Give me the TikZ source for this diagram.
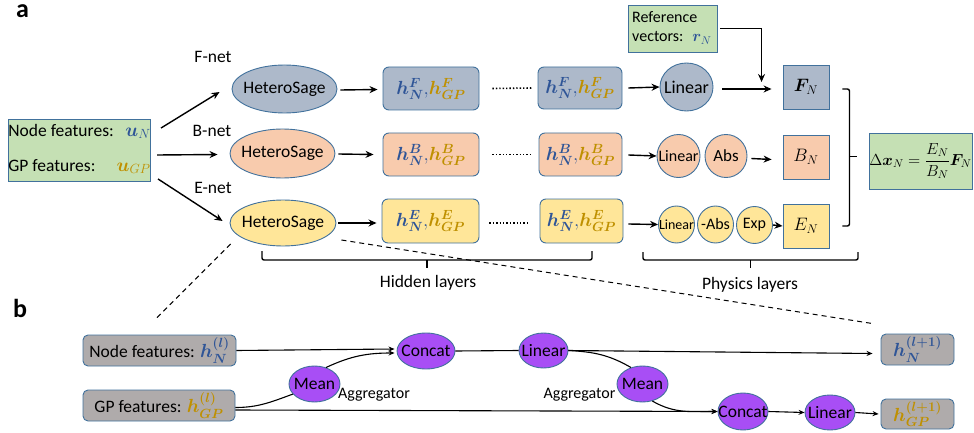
\RequirePackage{fix-cm}
\documentclass[tikz,border=0pt]{standalone}
\usepackage{amsmath,bm}
\usepackage{fontspec}
\setmainfont{Carlito}
\usetikzlibrary{shapes.geometric,arrows.meta,calc}

\definecolor{nb}{RGB}{47,85,151}
\definecolor{gd}{RGB}{191,144,0}
\definecolor{bd}{RGB}{65,113,156}
\definecolor{fF}{RGB}{173,185,202}
\definecolor{fB}{RGB}{248,203,173}
\definecolor{fE}{RGB}{255,230,153}
\definecolor{gr}{RGB}{197,224,180}
\definecolor{gy}{RGB}{175,171,171}
\definecolor{pu}{RGB}{168,78,245}

\newcommand\fsz[1]{\fontsize{#1}{#1}\selectfont}
\newcommand\hpair[1]{\fsz{19}$\textcolor{nb}{\bm{h_N^{#1}},}\textcolor{gd}{\bm{h_{GP}^{#1}}}$}

\begin{document}
\begin{tikzpicture}[x=1pt,y=-1pt,font=\fsz{17.5},
  base/.style={draw=bd,line width=0.9pt,inner sep=0pt,text=black},
  hbox/.style={base,rounded corners=6pt,minimum height=43pt},
  sq/.style={base,minimum width=46pt,minimum height=44pt},
  ell/.style={base,ellipse},
  pell/.style={base,ellipse,fill=pu,minimum height=36pt},
  gbox/.style={base,rounded corners=5pt,fill=gy,minimum height=31pt},
  arr/.style={-{Stealth[length=8pt,width=7pt]},line width=1.4pt},
  arrs/.style={-{Stealth[length=6pt,width=5pt]},line width=1.1pt},
  lnk/.style={line width=1.1pt},
  brc/.style={line width=1.4pt,rounded corners=2pt},
  dsh/.style={dashed,dash pattern=on 5pt off 4pt,line width=1pt},
  dotline/.style={line width=1.6pt,dash pattern=on 1.4pt off 2pt},
]
\useasboundingbox (0,0) rectangle (974,433);

% ---------- panel a ----------
\node[anchor=base west,inner sep=0pt,font=\fsz{26}\bfseries] (la) at (16,18) {a};

\node[base,fill=gr,minimum width=141pt,minimum height=62pt] (inp) at (79.5,150)
  {\begin{tabular}{@{}l@{\,}r@{}}Node features: & \fsz{19}\textcolor{nb}{$\bm{u}_N$}\\[17.5pt]
   GP features: & \fsz{19}\textcolor{gd}{$\bm{u}_{GP}$}\end{tabular}};

\node (lF) at (213,57) {F-net};
\node (lB) at (212,131) {B-net};
\node (lE) at (213,188) {E-net};

\node[ell,fill=fF,minimum width=105pt,minimum height=48pt] (hsF) at (284.5,89) {\makebox[0pt]{HeteroSage}};
\node[ell,fill=fB,minimum width=105pt,minimum height=49pt] (hsB) at (282.5,153.5) {\makebox[0pt]{HeteroSage}};
\node[ell,fill=fE,minimum width=106pt,minimum height=46pt] (hsE) at (283,223) {\makebox[0pt]{HeteroSage}};

\draw[arr] ($(inp.east)+(10,-22)$) -- ($(hsF.west)+(-12,3)$);
\draw[arr] ($(inp.east)+(6,5)$) -- ($(hsB.west)+(-12,1)$);
\draw[arr] ($(inp.east)+(7,29)$) -- ($(hsE.west)+(-7,-2)$);

% hidden layers
\node[hbox,fill=fF,minimum width=96pt] (hF1) at (431,88.5) {\hpair{F}};
\node[hbox,fill=fF,minimum width=84pt,minimum height=42pt] (hF2) at (580,88) {\hpair{F}};
\node[hbox,fill=fB,minimum width=96pt] (hB1) at (431,154.5) {\hpair{B}};
\node[hbox,fill=fB,minimum width=83pt] (hB2) at (580.5,154.5) {\hpair{B}};
\node[hbox,fill=fE,minimum width=97pt,minimum height=44pt] (hE1) at (430.5,221) {\hpair{E}};
\node[hbox,fill=fE,minimum width=83pt,minimum height=44pt] (hE2) at (581.5,221) {\hpair{E}};

\draw[arr] ($(hsF.east)+(3,1)$) -- ($(hF1.west)+(-5,1)$);
\draw[arr] ($(hsB.east)+(3,0.5)$) -- ($(hB1.west)+(-9,0)$);
\draw[arr] ($(hsE.east)+(2,0)$) -- ($(hE1.west)+(-5,2)$);

\draw[dotline] ($(hF1.east)+(13,0)$) -- ($(hF2.west)+(-6,0)$);
\draw[dotline] ($(hB1.east)+(13,0)$) -- ($(hB2.west)+(-6,0)$);
\draw[dotline] ($(hE1.east)+(10,2)$) -- ($(hE2.west)+(-11,2)$);

% physics layers
\node[ell,fill=fF,minimum width=53pt,minimum height=48pt] (lnF) at (686.5,87) {\makebox[0pt]{\fsz{18}Linear}};
\node[sq,fill=fF] (FN) at (806,87) {\fsz{18}$\bm{F}_N$};

\node[ell,fill=fB,minimum width=43pt,minimum height=43pt] (lnB) at (678.5,156) {\makebox[0pt]{\fsz{16}Linear}};
\node[ell,fill=fB,minimum width=42pt,minimum height=43pt] (abB) at (726,156) {\makebox[0pt]{\fsz{17}Abs}};
\node[sq,fill=fB] (BN) at (806,157) {\fsz{18}$B_N$};

\node[ell,fill=fE,minimum width=36pt,minimum height=37pt] (lnE) at (676.5,224.5) {\makebox[0pt]{\fsz{14}Linear}};
\node[ell,fill=fE,minimum width=36pt,minimum height=37pt] (abE) at (715.5,224.5) {\makebox[0pt]{\fsz{16}-Abs}};
\node[ell,fill=fE,minimum width=36pt,minimum height=37pt] (exE) at (754.5,225) {\makebox[0pt]{\fsz{16}Exp}};
\node[sq,fill=fE] (EN) at (806,226) {\fsz{18}$E_N$};

\draw[arr] ($(hF2.east)+(6,0)$) -- (lnF.west);
\draw[arr] ($(hB2.east)+(6,0.5)$) -- (lnB.west);
\draw[arr] ($(hE2.east)+(5,3)$) -- (lnE.west);

\draw[arr] ($(lnF.east)+(9,2)$) -- ($(FN.west)+(-11,2)$);
\draw[arr] ($(abB.east)+(4,2.5)$) -- ($(BN.west)+(-11,2.5)$);
\draw[arr] (exE.east) -- (EN.west);

\node[base,fill=gr,minimum width=89pt,minimum height=47pt] (ref) at (672.5,28.5) {};
\node[anchor=west,align=left,font=\fsz{16},inner sep=0pt] (reft) at (632,28)
  {Reference\\[3pt]vectors:\hspace{9pt}\textcolor{nb}{$\bm{r}_N$}};
\draw[arr] ($(ref.east)+(3,0)$) -| ($(FN.west)+(-21,-5)$);

\node[base,fill=gr,minimum width=103pt,minimum height=56pt] (res) at (920.5,161)
  {\fsz{16}$\Delta\bm{x}_N=\dfrac{E_N}{B_N}\bm{F}_N$};

% braces
\draw[brc] ($(FN.east)+(13,2)$) -- ++(7,0) -- ($(EN.east)+(20,0)$) -- ++(-7,0);
\draw[brc] ($(FN.east)!0.5!(EN.east)+(20,0)$) -- ++(8,0);

\coordinate (hbL) at (262,251);
\coordinate (hbR) at (592,251);
\draw[brc] (hbL) -- ($(hbL)+(0,9)$) -- ($(hbR)+(0,9)$) -- (hbR);
\draw[brc] ($(hbL)!0.5!(hbR)+(0,9)$) -- ++(0,8);
\node (hl) at (428,283) {Hidden layers};

\coordinate (pbL) at (643,252);
\coordinate (pbR) at (858,252);
\draw[brc] (pbL) -- ($(pbL)+(0,8)$) -- ($(pbR)+(0,8)$) -- (pbR);
\draw[brc] ($(pbL)!0.5!(pbR)+(0,8)$) -- ++(0,8);
\node (pl) at (750,285) {Physics layers};

% ---------- panel b ----------
\node[anchor=base west,inner sep=0pt,font=\fsz{26}\bfseries] (lb) at (13,317) {b};

\node[gbox,minimum width=153pt] (nf) at (159.5,350.5) {Node features: \textcolor{nb}{\fsz{19}$\bm{h_N^{(l)}}$}};
\node[gbox,minimum width=152pt] (gp) at (159,405.5) {GP features: \textcolor{gd}{\fsz{19}$\bm{h_{GP}^{(l)}}$}};

\node[pell,minimum width=58pt] (cc1) at (426,351) {\makebox[0pt]{Concat}};
\node[pell,minimum width=49pt,minimum height=35pt] (ln1) at (543.5,350.5) {\makebox[0pt]{Linear}};
\node[pell,minimum width=51pt] (mn1) at (314.5,384) {\makebox[0pt]{Mean}};
\node[pell,minimum width=51pt] (mn2) at (642.5,384) {\makebox[0pt]{Mean}};
\node[pell,minimum width=50pt,minimum height=37pt] (cc2) at (743,411.5) {\makebox[0pt]{Concat}};
\node[pell,minimum width=50pt,minimum height=35pt] (ln2) at (830,412.5) {\makebox[0pt]{Linear}};

\node[font=\fsz{16}] (ag1) at (374,395) {Aggregator};
\node[font=\fsz{16}] (ag2) at (579.5,395) {Aggregator};

\node[gbox,minimum width=73pt] (hn1) at (917.5,349.5) {\textcolor{nb}{\fsz{19}$\bm{h_N^{(l+1)}}$}};
\node[gbox,minimum width=73pt,minimum height=30pt] (hg1) at (917.5,414) {\textcolor{gd}{\fsz{19}$\bm{h_{GP}^{(l+1)}}$}};

\draw[arrs] (nf.east) -- ($(cc1.west)+(-2,-2)$);
\draw[arrs] (mn1.55) to[out=25,in=180] ($(cc1.west)+(-2,2)$);
\draw[lnk] ($(gp.east)+(0,2)$) to[out=0,in=200] (mn1.205);
\draw[arrs] ($(gp.east)+(0,4.5)$) -- (cc2.west);
\draw[lnk] (cc1.east) -- (ln1.west);
\draw[arrs] (ln1.east) -- ($(hn1.west)+(-8,4)$);
\draw[lnk] (ln1.east) to[out=-3,in=150] (mn2.125);
\draw[arrs] (mn2.300) to[out=-30,in=180] (cc2.west);
\draw[arrs] (cc2.east) -- (ln2.west);
\draw[arrs] (ln2.east) -- ($(hg1.west)+(-2,0)$);

% links between the panels
\draw[dsh] ($(hsE.west)+(1,21)$) -- ($(nf.north)+(-2.5,-17)$);
\draw[dsh] ($(hsE.east)+(5,17)$) -- ($(hn1.north west)+(-8,-10)$);
\end{tikzpicture}
\end{document}
